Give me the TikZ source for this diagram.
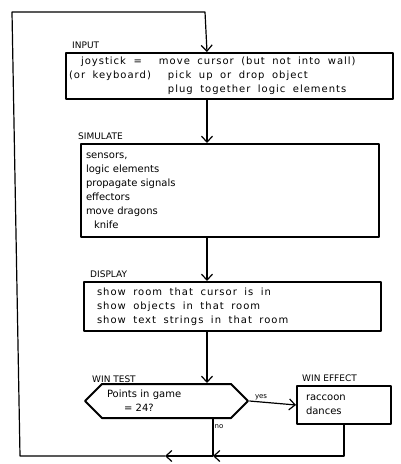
\documentclass[tikz,border=0pt]{standalone}
\usepackage{fontspec}
\setmainfont{DejaVu Sans}
\newfontfamily\widehand{DejaVu Sans}[LetterSpace=10]
\usetikzlibrary{arrows.meta,shapes.symbols,calc}

\begin{document}
\begin{tikzpicture}[x=1pt,y=-1pt,line join=round,
  >={Straight Barb[length=6pt,width=11pt]},
  panel/.style={draw,line width=2pt,inner ysep=2pt,align=left,
    font=\fontsize{10}{14}\selectfont},
  wide/.style={font=\widehand\fontsize{10}{14}\selectfont,
    execute at begin node={\spaceskip=7.5pt\relax}},
  tag/.style={font=\fontsize{9}{9}\selectfont,inner sep=0pt,anchor=south west},
  flow/.style={line width=1.2pt},
  small/.style={font=\fontsize{7}{8}\selectfont,inner sep=1pt}]
\useasboundingbox (0,0) rectangle (400,464);
% ---------------- boxes ----------------
\node[panel,wide,anchor=north west,inner xsep=3pt,text width=321pt,minimum height=46pt]
  (input) at (65,52)
  {\begin{tabular}{@{}p{90pt}@{}l@{}}
   \hspace*{12pt}joystick = & move cursor (but not into wall)\\
   (or keyboard) & \hspace*{9pt}pick up or drop object\\
   & \hspace*{9pt}plug together logic elements
   \end{tabular}};
\node[tag] (inputlbl) at ([xshift=7pt,yshift=3pt]input.north west) {INPUT};

\node[panel,anchor=north west,inner xsep=5pt,text width=288pt,minimum height=93pt]
  (simulate) at (80,143)
  {sensors,\\ logic elements\\ propagate signals\\ effectors\\
   move dragons\\ \hspace*{8pt}knife};
\node[tag] (simulatelbl) at ([xshift=-2pt,yshift=3pt]simulate.north west) {SIMULATE};

\node[panel,wide,anchor=north west,inner xsep=13pt,text width=271pt,minimum height=49pt]
  (display) at (83,281)
  {show room that cursor is in\\ show objects in that room\\
   show text strings in that room};
\node[tag] (displaylbl) at ([xshift=7pt,yshift=3pt]display.north west) {DISPLAY};

% ---------------- win test / win effect ----------------
\node[panel,shape=signal,signal to=west and east,inner sep=1pt,
  text width=119pt,minimum width=163pt,minimum height=34pt]
  (wintest) at (166.5,401)
  {Points in game\\ \hspace*{17pt}= 24?};
\node[tag] (wintestlbl) at (92,383) {WIN TEST};

\node[panel,anchor=north west,inner xsep=9pt,text width=76pt,minimum height=38pt]
  (wineffect) at (296,385)
  {raccoon\\ dances};
\node[tag] (wineffectlbl) at ([xshift=6pt,yshift=3pt]wineffect.north west) {WIN EFFECT};

% ---------------- connectors ----------------
\coordinate (spine) at (207,0);
\coordinate (nojoin) at (213,456);
\coordinate (loopmid) at (165,456);
\coordinate (loopbl) at (20,456);
\coordinate (looptl) at (12,12);
\coordinate (looptr) at (205,12);

\draw[flow,->] (input.south -| spine) -- (simulate.north -| spine);
\draw[flow,->] (simulate.south -| spine) -- (display.north -| spine);
\draw[flow,->] (display.south -| spine) -- (wintest.north -| spine);
\draw[flow,->] (wintest.east) -- (wineffect.west)
  node[small,pos=0.25,above] (yeslbl) {yes};
\draw[flow] (wintest.south -| nojoin) -- (nojoin)
  node[small,pos=0.2,right] (nolbl) {no};
\draw[flow,->] (wineffect.south) |- (nojoin);
\draw[flow,->] (nojoin) -- (loopmid);
\draw[flow,->] (loopmid) -- (loopbl) -- (looptl) -- (looptr) -- (input.north -| spine);
\end{tikzpicture}
\end{document}
